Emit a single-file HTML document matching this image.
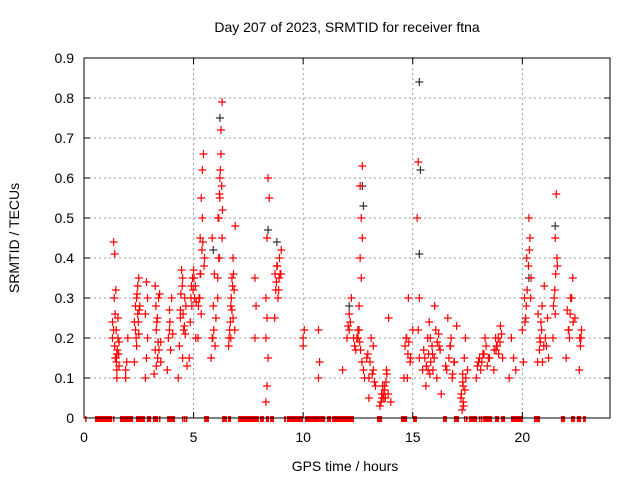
<!DOCTYPE html>
<html><head><meta charset="utf-8"><style>
body{margin:0;background:#fff;}
svg text{font-family:"Liberation Sans",sans-serif;font-size:14px;fill:#000;}
</style></head><body>
<svg id="chart" width="640" height="480" viewBox="0 0 640 480" xmlns="http://www.w3.org/2000/svg">
<rect width="640" height="480" fill="#fff"/>
<g id="grid"></g>
<g id="zeros"></g>
<g id="marks"></g>
<rect x="84" y="58" width="526" height="360" fill="none" stroke="#000" stroke-width="1"/>
<g id="ticks"></g>
<text x="347" y="32" text-anchor="middle">Day 207 of 2023, SRMTID for receiver ftna</text>
<text x="345" y="471" text-anchor="middle">GPS time / hours</text>
<text transform="translate(19,238) rotate(-90)" text-anchor="middle">SRMTID / TECUs</text>
</svg>
<script>
const xTicks=[0,5,10,15,20];
const yTicks=[0,0.1,0.2,0.3,0.4,0.5,0.6,0.7,0.8,0.9];
const yTickLabels=["0","0.1","0.2","0.3","0.4","0.5","0.6","0.7","0.8","0.9"];
const redT=[1.3,1.3,1.35,1.4,1.4,1.45,1.5,1.5,1.55,1.6,1.35,1.45,1.5,1.55,1.6,1.9,1.95,2.0,1.9,2.3,2.35,2.4,2.45,2.5,2.4,2.5,2.55,2.3,2.45,2.8,2.85,2.9,2.85,2.8,3.2,3.25,3.3,3.35,3.4,3.5,3.3,3.45,3.25,3.5,3.8,3.85,3.9,4.0,3.95,4.3,4.35,4.4,4.5,4.6,4.45,4.7,4.55,4.65,4.8,4.85,4.9,5.0,5.05,5.1,4.95,5.2,5.25,5.3,5.35,5.4,5.45,5.5,5.3,5.4,5.35,5.8,5.85,5.9,5.95,5.85,6.1,6.15,6.2,6.25,6.3,6.15,6.2,6.25,6.1,6.3,6.6,6.65,6.7,6.75,6.8,6.85,6.9,6.7,6.8,7.8,7.85,7.8,8.3,8.35,8.4,8.3,8.35,8.4,8.45,8.3,8.35,8.7,8.75,8.8,8.9,9.0,8.85,8.95,10.0,10.05,10.0,10.7,10.75,10.7,11.8,12.0,12.1,12.2,12.05,12.4,12.5,12.55,12.6,12.65,12.7,12.6,12.65,12.7,12.55,12.9,13.0,13.1,13.2,13.3,13.0,13.2,13.5,13.6,13.7,13.8,13.9,14.0,13.65,13.75,14.6,14.7,14.8,14.9,15.0,14.75,15.2,15.25,15.3,15.25,15.3,15.6,15.7,15.8,15.9,16.0,16.1,16.2,16.3,15.75,16.05,16.5,16.6,16.7,16.8,16.9,17.0,16.75,17.2,17.25,17.3,17.35,17.4,17.5,17.3,17.9,18.0,18.1,18.2,18.3,18.4,18.5,18.7,18.8,18.9,19.0,19.1,18.85,19.4,19.5,19.6,19.7,20.0,20.1,20.2,20.3,20.4,20.15,20.35,20.7,20.8,20.9,21.0,21.1,21.2,20.85,21.4,21.45,21.5,21.55,21.6,21.5,22.0,22.1,22.2,22.3,22.4,22.15,22.6,22.65,22.7];
const redV=[0.24,0.2,0.44,0.41,0.18,0.15,0.1,0.16,0.25,0.13,0.22,0.32,0.12,0.2,0.19,0.1,0.14,0.2,0.12,0.14,0.22,0.3,0.26,0.35,0.18,0.21,0.28,0.24,0.33,0.1,0.15,0.2,0.34,0.26,0.11,0.17,0.22,0.25,0.3,0.14,0.13,0.31,0.33,0.19,0.12,0.2,0.27,0.3,0.17,0.1,0.18,0.25,0.35,0.3,0.37,0.13,0.22,0.28,0.15,0.24,0.33,0.37,0.3,0.2,0.35,0.2,0.3,0.45,0.55,0.62,0.66,0.4,0.36,0.5,0.26,0.15,0.2,0.28,0.36,0.45,0.3,0.4,0.55,0.66,0.79,0.5,0.6,0.72,0.35,0.45,0.18,0.22,0.28,0.35,0.25,0.32,0.48,0.2,0.4,0.2,0.28,0.35,0.04,0.08,0.15,0.3,0.45,0.6,0.55,0.2,0.25,0.25,0.32,0.38,0.35,0.42,0.3,0.36,0.18,0.22,0.2,0.1,0.14,0.22,0.12,0.2,0.26,0.3,0.23,0.17,0.2,0.28,0.4,0.5,0.63,0.58,0.35,0.45,0.22,0.15,0.1,0.2,0.12,0.08,0.05,0.18,0.03,0.05,0.08,0.12,0.25,0.04,0.06,0.05,0.1,0.2,0.3,0.15,0.22,0.1,0.5,0.64,0.3,0.22,0.15,0.08,0.12,0.2,0.16,0.28,0.1,0.18,0.06,0.24,0.22,0.13,0.25,0.18,0.1,0.14,0.23,0.2,0.05,0.02,0.08,0.15,0.2,0.12,0.04,0.1,0.14,0.12,0.16,0.2,0.13,0.15,0.12,0.17,0.2,0.23,0.15,0.18,0.1,0.2,0.15,0.12,0.22,0.3,0.4,0.5,0.35,0.25,0.45,0.14,0.2,0.28,0.33,0.18,0.15,0.24,0.2,0.3,0.45,0.56,0.38,0.26,0.15,0.22,0.3,0.35,0.25,0.2,0.12,0.18,0.22];
const redT2=[1.38,1.42,1.47,1.52,1.43,1.48,1.58,2.35,2.42,2.48,2.52,2.38,2.9,3.28,3.32,3.38,3.42,3.36,3.9,3.92,4.05,4.4,4.42,4.48,4.52,4.58,4.62,4.5,4.88,4.92,4.98,5.02,5.08,5.12,5.22,5.28,5.32,5.38,5.42,5.48,5.88,5.92,5.98,6.02,6.12,6.18,6.22,6.28,6.32,6.18,6.62,6.68,6.72,6.78,6.82,6.75,6.88,8.72,8.78,8.82,8.88,8.92,8.98,12.1,12.15,12.3,12.35,12.45,12.5,12.58,12.62,12.68,12.75,12.8,12.95,13.05,13.15,13.25,13.55,13.58,13.62,13.68,13.72,13.78,13.82,13.88,14.65,14.72,14.78,14.82,14.88,15.45,15.5,15.55,15.62,15.68,15.72,15.78,15.82,15.88,15.92,15.98,16.12,16.18,16.25,16.55,16.65,16.72,16.82,16.88,17.22,17.28,17.32,17.38,17.42,17.28,17.95,18.05,18.15,18.25,18.35,18.45,18.72,18.78,18.82,18.92,18.98,19.05,20.05,20.12,20.18,20.22,20.28,20.32,20.38,20.72,20.78,20.82,20.88,20.92,20.98,21.05,21.15,21.42,21.48,21.52,21.58,22.05,22.12,22.18,22.25,22.32,22.62,22.68];
const redV2=[0.3,0.26,0.22,0.17,0.15,0.14,0.16,0.28,0.31,0.24,0.27,0.2,0.3,0.28,0.24,0.19,0.17,0.15,0.22,0.24,0.21,0.27,0.31,0.33,0.26,0.23,0.21,0.15,0.3,0.28,0.32,0.35,0.33,0.29,0.28,0.3,0.36,0.42,0.44,0.38,0.2,0.22,0.18,0.25,0.5,0.56,0.62,0.58,0.52,0.4,0.2,0.24,0.3,0.33,0.36,0.27,0.22,0.36,0.34,0.38,0.32,0.4,0.36,0.22,0.24,0.2,0.18,0.2,0.22,0.19,0.17,0.14,0.12,0.1,0.16,0.14,0.11,0.09,0.04,0.06,0.08,0.05,0.07,0.09,0.11,0.06,0.18,0.2,0.16,0.19,0.14,0.12,0.17,0.15,0.13,0.2,0.16,0.11,0.14,0.18,0.12,0.15,0.19,0.21,0.17,0.12,0.15,0.18,0.11,0.14,0.06,0.09,0.03,0.07,0.1,0.11,0.13,0.15,0.14,0.16,0.18,0.15,0.17,0.2,0.18,0.16,0.19,0.21,0.14,0.24,0.28,0.32,0.38,0.42,0.3,0.26,0.17,0.19,0.22,0.14,0.18,0.2,0.25,0.28,0.32,0.36,0.4,0.27,0.22,0.26,0.3,0.24,0.2,0.2,0.24];
const blackT=[5.9,6.2,8.4,12.7,12.75,15.3,15.35,15.3,20.3,21.5,8.8,12.1];
const blackV=[0.42,0.75,0.47,0.58,0.53,0.84,0.62,0.41,0.35,0.48,0.44,0.28];
const zeroStart=[0.05,0.50,1.32,1.64,2.37,2.87,3.15,3.42,3.79,4.47,4.56,4.65,5.48,6.30,6.57,7.03,8.03,8.30,8.49,9.13,9.26,10.08,11.09,11.32,13.37,14.46,15.01,16.38,16.88,17.34,17.43,17.57,18.02,18.11,18.21,18.75,19.03,19.48,20.53,21.76,22.22,22.49,22.77];
const zeroEnd=[0.05,1.28,1.32,2.24,2.78,3.06,3.38,3.42,4.15,4.47,4.56,4.65,5.70,6.52,6.71,7.98,8.21,8.44,8.67,9.22,9.99,11.00,11.27,12.32,13.60,14.74,15.19,16.56,17.11,17.34,17.43,17.93,18.02,18.11,18.62,18.94,19.21,20.03,20.81,21.95,22.40,22.68,22.90];
const NS='http://www.w3.org/2000/svg';
const X0=84,X1=610,Y0=418,Y1=58;
function xs(t){return X0+(X1-X0)*t/24;}
function ys(v){return Y0-(Y0-Y1)*v/0.9;}
function mk(tag,attrs,parent){const e=document.createElementNS(NS,tag);for(const k in attrs)e.setAttribute(k,attrs[k]);parent.appendChild(e);return e;}
const grid=document.getElementById('grid'),ticks=document.getElementById('ticks');
xTicks.forEach(t=>{
  const x=xs(t);
  if(t>0){const g=mk('line',{x1:x,x2:x,y1:Y1,y2:Y0,stroke:'#999','stroke-dasharray':'2,3'},grid);
  
  }
  mk('line',{x1:x,x2:x,y1:Y0,y2:Y0-6,stroke:'#000'},ticks);
  mk('line',{x1:x,x2:x,y1:Y1,y2:Y1+6,stroke:'#000'},ticks);
  const l=mk('text',{x:x,y:Y0+24,'text-anchor':'middle'},ticks);l.textContent=t;
  
  
});
yTicks.forEach((v,i)=>{
  const y=ys(v);
  if(v>0&&v<0.9){const g=mk('line',{x1:X0,x2:X1,y1:y,y2:y,stroke:'#999','stroke-dasharray':'2,3'},grid);
  
  }
  mk('line',{x1:X0,x2:X0+6,y1:y,y2:y,stroke:'#000'},ticks);
  mk('line',{x1:X1,x2:X1-6,y1:y,y2:y,stroke:'#000'},ticks);
  const l=mk('text',{x:X0-10,y:y+5,'text-anchor':'end'},ticks);l.textContent=yTickLabels[i];
  
  
});
const zg=document.getElementById('zeros');
zeroStart.forEach((s,i)=>{
  const w=Math.max(1.5,xs(zeroEnd[i])-xs(s));
  const r=mk('rect',{x:xs(s),y:ys(0)-2,width:w,height:6,fill:'#f00'},zg);
  
  
});
const mg=document.getElementById('marks');
function plus(t,v,c,name){
  const x=xs(t),y=ys(v);
  const p=mk('path',{d:`M${x-4},${y}h8M${x},${y-4}v8`,stroke:c,'stroke-width':1.2,fill:'none'},mg);
  
  
}
blackT.forEach((t,i)=>plus(t,blackV[i],'#333','black-point'));
redT.forEach((t,i)=>plus(t,redV[i],'#f00','red-point'));
redT2.forEach((t,i)=>plus(t,redV2[i],'#f00','red-point'));
</script>
</body></html>
